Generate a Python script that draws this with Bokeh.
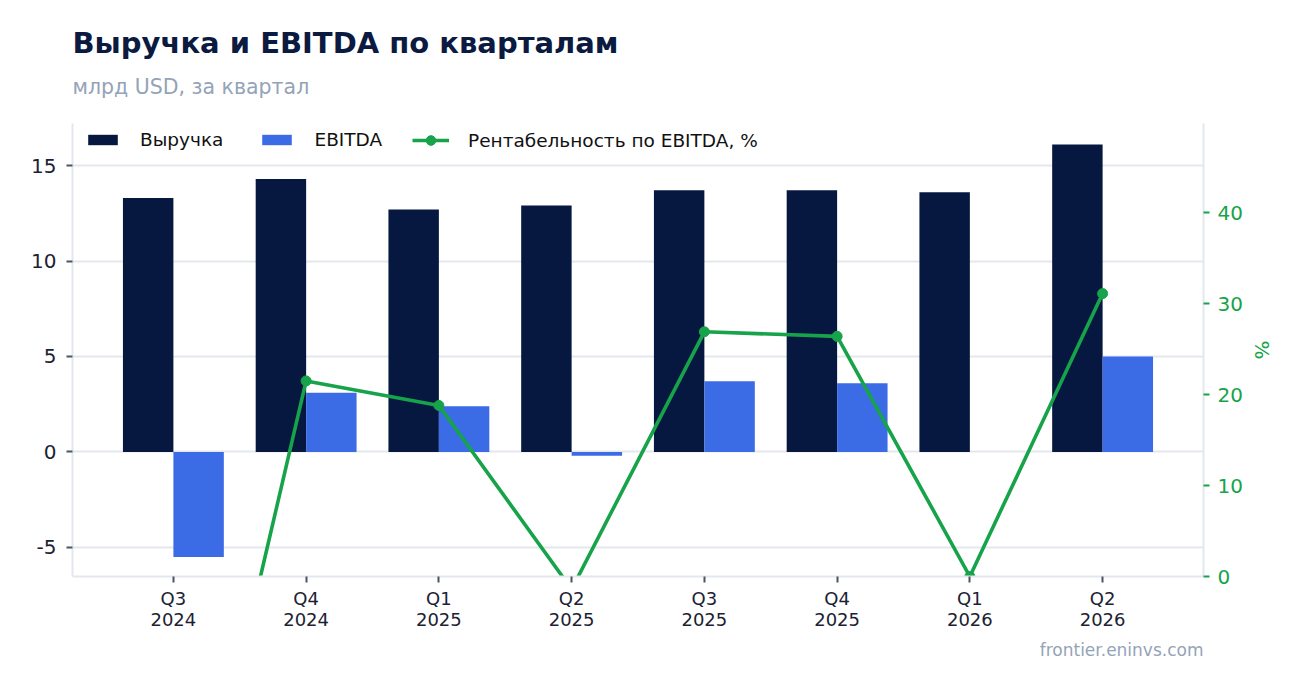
from bokeh.plotting import figure
from bokeh.models import (Range1d, LinearAxis, FixedTicker, Title, ColumnDataSource,
                          Legend, LegendItem)
from bokeh.transform import dodge
from bokeh.embed import file_html
from bokeh.resources import INLINE

# ---- data ----
quarters = ["Q3\n2024", "Q4\n2024", "Q1\n2025", "Q2\n2025",
            "Q3\n2025", "Q4\n2025", "Q1\n2026", "Q2\n2026"]
revenue = [13.3, 14.3, 12.7, 12.9, 13.7, 13.7, 13.6, 16.1]
ebitda = [-5.5, 3.1, 2.4, -0.2, 3.7, 3.6, 0.0, 5.0]
margin = [-41.0, 21.5, 18.8, -1.4, 26.9, 26.4, 0.0, 31.1]
left_ticks = [-5, 0, 5, 10, 15]
right_ticks = [0, 10, 20, 30, 40]

NAVY = "#061740"
BLUE = "#3b6ce6"
GREEN = "#16a34a"
GRID = "#e3e8ef"
GRAY = "#94a3b8"
DARK = "#1c2233"
FONT = "DejaVu Sans"

idx = list(range(len(quarters)))
src = ColumnDataSource(dict(x=idx, revenue=revenue, ebitda=ebitda, margin=margin))

p = figure(width=1286, height=677, output_backend="svg", toolbar_location=None,
           title=None,
           x_range=Range1d(-0.76, len(quarters) - 1 + 0.76),
           y_range=Range1d(-6.52, 17.2),
           min_border_left=72, min_border_right=83,
           min_border_top=123, min_border_bottom=101)
p.extra_y_ranges = {"pct": Range1d(0, 49.8)}
p.background_fill_color = "white"
p.border_fill_color = "white"
p.outline_line_color = None

r_rev = p.vbar(x=dodge("x", -0.19, range=p.x_range), top="revenue", width=0.38,
               source=src, fill_color=NAVY, line_color=None)
r_eb = p.vbar(x=dodge("x", 0.19, range=p.x_range), top="ebitda", width=0.38,
              source=src, fill_color=BLUE, line_color=None)
r_line = p.line(x="x", y="margin", source=src, y_range_name="pct", line_color=GREEN,
                line_width=3.6)
r_sc = p.scatter(x="x", y="margin", source=src, y_range_name="pct", size=10,
                 fill_color=GREEN, line_color=GREEN)

# grid
p.xgrid.visible = False
p.ygrid.grid_line_color = GRID
p.ygrid.grid_line_width = 2
p.ygrid.ticker = FixedTicker(ticks=left_ticks)

# x axis
xa = p.xaxis[0]
xa.ticker = FixedTicker(ticks=idx)
xa.major_label_overrides = {i: q for i, q in zip(idx, quarters)}
xa.axis_line_color = GRID
xa.axis_line_width = 2
xa.major_tick_line_color = "#4b5563"
xa.major_tick_line_width = 2
xa.major_tick_in = 0
xa.major_tick_out = 6
xa.minor_tick_line_color = None
xa.major_label_text_font = FONT
xa.major_label_text_font_size = "18px"
xa.major_label_text_line_height = 1.0
xa.major_label_text_color = DARK
xa.major_label_standoff = 5

# left axis
ya = p.yaxis[0]
ya.ticker = FixedTicker(ticks=left_ticks)
ya.major_label_overrides = {t: str(t) for t in left_ticks}
ya.axis_line_color = GRID
ya.axis_line_width = 2
ya.major_tick_line_color = "#4b5563"
ya.major_tick_line_width = 2
ya.major_tick_in = 0
ya.major_tick_out = 6
ya.minor_tick_line_color = None
ya.major_label_text_font = FONT
ya.major_label_text_font_size = "20px"
ya.major_label_text_color = DARK
ya.major_label_standoff = 10

# right axis
ra = LinearAxis(y_range_name="pct", axis_label="%",
                ticker=FixedTicker(ticks=right_ticks))
ra.axis_line_color = GRID
ra.axis_line_width = 2
ra.major_tick_line_color = GREEN
ra.major_tick_line_width = 2
ra.major_tick_in = 0
ra.major_tick_out = 6
ra.minor_tick_line_color = None
ra.major_label_text_font = FONT
ra.major_label_text_font_size = "20px"
ra.major_label_text_color = GREEN
ra.major_label_standoff = 8
ra.axis_label_text_font = FONT
ra.axis_label_text_font_size = "20px"
ra.axis_label_text_font_style = "normal"
ra.axis_label_text_color = GREEN
ra.axis_label_standoff = 4
p.add_layout(ra, "right")


def style_legend(lg):
    lg.orientation = "horizontal"
    lg.padding = 6
    lg.margin = 0
    lg.spacing = 35
    lg.glyph_width = 37
    lg.label_standoff = 19
    lg.label_text_font = FONT
    lg.label_text_font_size = "18.5px"
    lg.label_text_color = "#111111"
    lg.border_line_color = None
    lg.background_fill_color = "white"
    lg.background_fill_alpha = 1.0


leg1 = Legend(items=[LegendItem(label="Выручка", renderers=[r_rev]),
                     LegendItem(label="EBITDA", renderers=[r_eb])],
              location=(12, 426))
style_legend(leg1)
leg1.glyph_height = 13
leg2 = Legend(items=[LegendItem(label="Рентабельность по EBITDA, %",
                                renderers=[r_line, r_sc])],
              location=(340, 424))
style_legend(leg2)
leg2.glyph_height = 24
p.add_layout(leg1, "center")
p.add_layout(leg2, "center")

# titles (spacer first, nearest to the frame)
spacer = Title(text=" ", align="left", text_font=FONT, text_font_size="8px",
               standoff=0)
sub = Title(text="млрд USD, за квартал", align="left", text_font=FONT,
            text_font_size="20.5px", text_font_style="normal", text_color=GRAY,
            standoff=27)
main = Title(text="Выручка и EBITDA по кварталам", align="left", text_font=FONT,
             text_font_size="29px", text_font_style="bold", text_color="#0b1a40",
             standoff=0)
p.add_layout(spacer, "above")
p.add_layout(sub, "above")
p.add_layout(main, "above")

foot = Title(text="frontier.eninvs.com", align="right", text_font=FONT,
             text_font_size="17px", text_font_style="normal", text_color=GRAY)
p.add_layout(foot, "below")

open("out.html", "w").write(file_html(p, INLINE))
